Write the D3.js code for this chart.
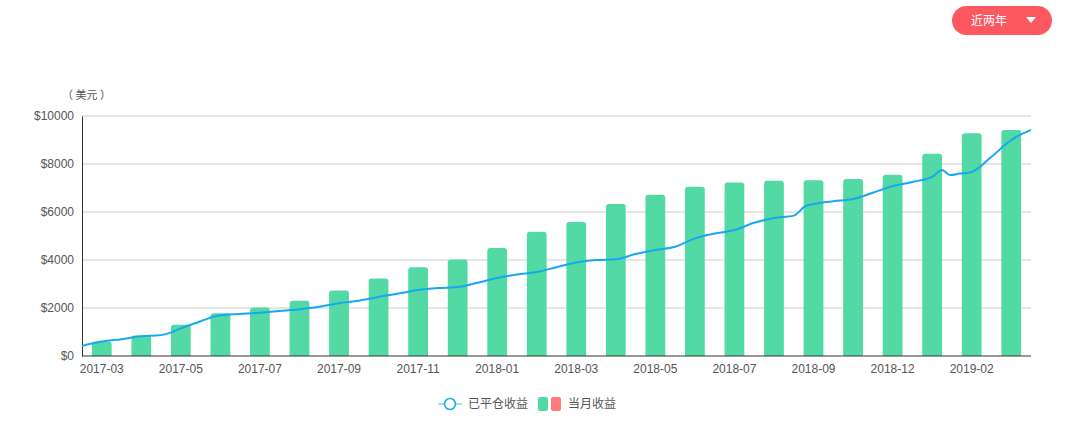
<!DOCTYPE html>
<html lang="zh">
<head>
<meta charset="UTF-8">
<script src="https://d3js.org/d3.v7.min.js"></script>
<style>
  body { margin: 0; background: #fff; font-family: "Noto Sans CJK SC", "Noto Sans", sans-serif; }
  svg text { fill: #555; font-size: 12px; }
</style>
</head>
<body>
<div id="chart"></div>
<script>
let months = ["2017-03","2017-04","2017-05","2017-06","2017-07","2017-08","2017-09","2017-10","2017-11","2017-12",
  "2018-01","2018-02","2018-03","2018-04","2018-05","2018-06","2018-07","2018-08","2018-09","2018-10",
  "2018-12","2019-01","2019-02","2019-03"];
let monthly = [600,850,1300,1780,2020,2300,2730,3230,3700,4020,4500,5180,5580,6330,6720,7050,7230,7300,7320,7380,7550,8430,9280,9420];
// cumulative line, position given in month index (bar centres are integers)
let lineIdx = [-0.5,0,0.5,1,1.5,2,2.5,3,3.5,4,4.5,5,5.5,6,6.5,7,7.5,8,8.5,9,9.5,10,10.5,11,11.5,12,12.5,13,13.5,14,14.5,15,15.5,16,16.5,17,17.5,17.8,18,18.5,19,19.5,20,20.5,21,21.25,21.45,21.7,22,22.5,23,23.5];
let lineVal = [420,600,700,820,870,1150,1450,1700,1750,1800,1870,1950,2050,2200,2300,2460,2600,2750,2830,2870,3050,3250,3400,3500,3700,3900,4000,4030,4250,4420,4550,4900,5100,5250,5550,5750,5850,6250,6330,6450,6540,6800,7080,7250,7460,7750,7540,7600,7670,8300,9000,9420];
let yTicks = [0,2000,4000,6000,8000,10000];

let W = 1074, H = 421;
let pLeft = 82, pRight = 1031, pTop = 116, pBottom = 356;

let svg = d3.select("#chart").append("svg").attr("width", W).attr("height", H);

let x = d3.scaleBand().domain(months).range([pLeft, pRight]).paddingInner(0.5).paddingOuter(0.25);
let xi = d3.scaleLinear().domain([-0.5, months.length - 0.5]).range([pLeft, pRight]);
let y = d3.scaleLinear().domain([0, 10000]).range([pBottom, pTop]);

// grid
svg.append("g").selectAll("line").data(yTicks.slice(1)).enter().append("line")
  .attr("x1", pLeft).attr("x2", pRight).attr("y1", d => y(d)).attr("y2", d => y(d))
  .attr("stroke", "#ccc").attr("stroke-width", 1);

let yAxis = svg.append("g").attr("transform", "translate(" + pLeft + ",0)")
  .call(d3.axisLeft(y).tickValues(yTicks).tickSize(0).tickPadding(8).tickFormat(d => "$" + d));
yAxis.select(".domain").attr("stroke", "#333");
yAxis.selectAll("text").attr("font-size", 12).style("fill", "#555");

svg.append("text").attr("x", 62).attr("y", 99).text("（ 美元 ）").style("font-size", "11px");

// bars
svg.append("g").selectAll("path").data(months).enter().append("path")
  .attr("fill", "#52d9a4")
  .attr("d", (m, i) => {
    let x0 = x(m), w = x.bandwidth(), y0 = y(monthly[i]), r = 3;
    return "M" + x0 + "," + pBottom + "V" + (y0 + r) + "Q" + x0 + "," + y0 + " " + (x0 + r) + "," + y0 +
      "H" + (x0 + w - r) + "Q" + (x0 + w) + "," + y0 + " " + (x0 + w) + "," + (y0 + r) + "V" + pBottom + "Z";
  });

// line
let pts = lineIdx.map((d, i) => [xi(d), y(lineVal[i])]);
svg.append("path").datum(pts).attr("d", d3.line().curve(d3.curveMonotoneX))
  .attr("fill", "none").attr("stroke", "#17a8f0").attr("stroke-width", 2);

// x axis
let xAxis = svg.append("g").attr("transform", "translate(0," + pBottom + ")")
  .call(d3.axisBottom(x).tickValues(months.filter((m, i) => i % 2 === 0)).tickSize(0).tickPadding(8));
xAxis.select(".domain").attr("stroke", "#333").attr("d", "M" + pLeft + ",0H" + pRight);
xAxis.selectAll("text").attr("font-size", 12).style("fill", "#555");

// legend
let lg = svg.append("g");
lg.append("line").attr("x1", 438).attr("x2", 462).attr("y1", 404).attr("y2", 404).attr("stroke", "#7fd3f7").attr("stroke-width", 1.5);
lg.append("circle").attr("cx", 450).attr("cy", 404).attr("r", 5.5).attr("fill", "#fff").attr("stroke", "#17a8f0").attr("stroke-width", 1.5);
lg.append("text").attr("x", 468).attr("y", 408).text("已平仓收益");
lg.append("rect").attr("x", 538).attr("y", 397).attr("width", 10).attr("height", 14).attr("rx", 2).attr("fill", "#52d9a4");
lg.append("rect").attr("x", 551).attr("y", 397).attr("width", 10).attr("height", 14).attr("rx", 2).attr("fill", "#ff7b7f");
lg.append("text").attr("x", 568).attr("y", 408).text("当月收益");

// dropdown button
let bt = svg.append("g");
bt.append("rect").attr("x", 952).attr("y", 6).attr("width", 100).attr("height", 29).attr("rx", 14.5).attr("fill", "#fd575f");
bt.append("text").attr("x", 971).attr("y", 25).text("近两年").style("fill", "#fff");
bt.append("path").attr("d", "M1026,17H1036L1031,23Z").attr("fill", "#fff");
</script>
</body>
</html>
